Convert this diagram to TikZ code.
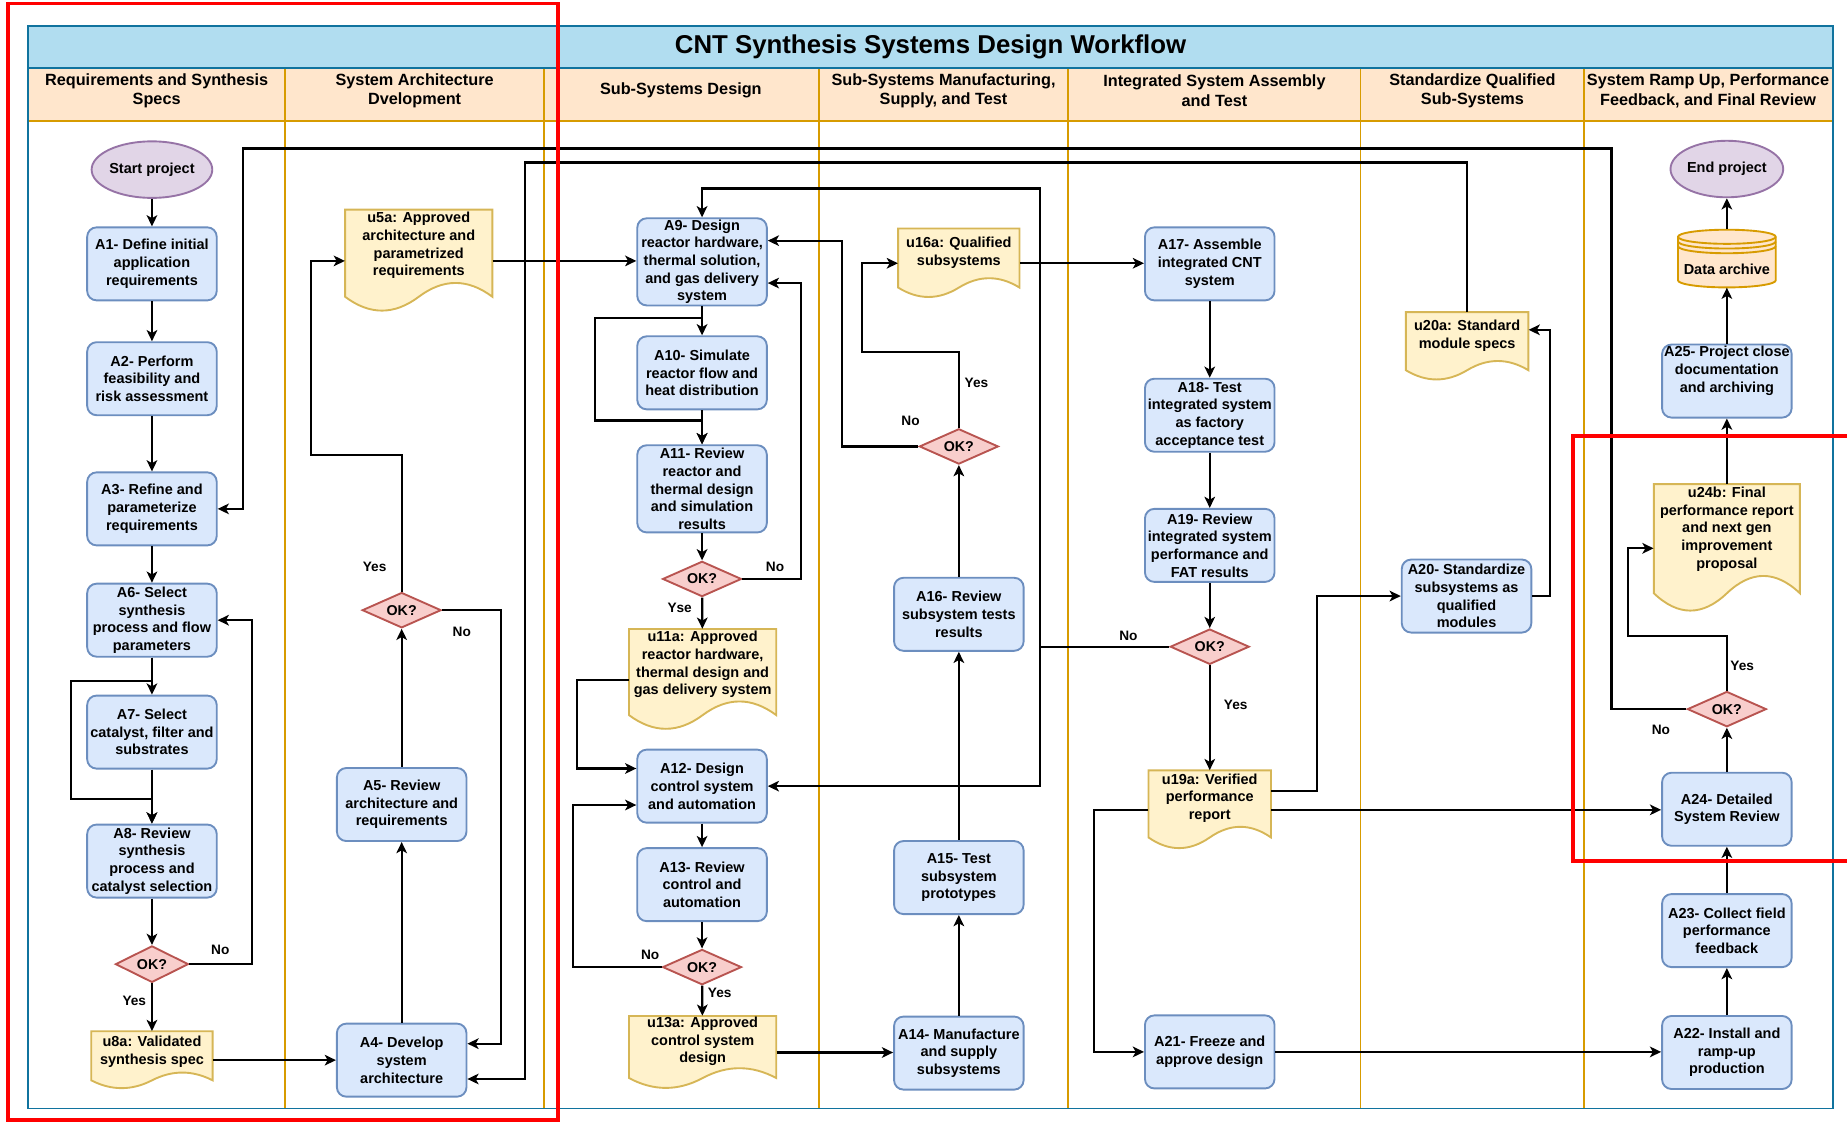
\documentclass[tikz,border=0pt]{standalone}
\usepackage{fontspec}
\setmainfont{Liberation Sans}
\usetikzlibrary{arrows.meta, shapes.geometric}

\definecolor{procfill}{HTML}{DAE8FC}
\definecolor{procline}{HTML}{6C8EBF}
\definecolor{docfill}{HTML}{FFF2CC}
\definecolor{docline}{HTML}{D6B656}
\definecolor{decfill}{HTML}{F8CECC}
\definecolor{decline}{HTML}{B85450}
\definecolor{termfill}{HTML}{E1D5E7}
\definecolor{termline}{HTML}{9673A6}
\definecolor{headfill}{HTML}{FFE6CC}
\definecolor{headline}{HTML}{D79B00}
\definecolor{titlefill}{HTML}{B1DDF0}
\definecolor{titleline}{HTML}{10739E}

% document shape: name, left, top, width, height, text
\newcommand{\docnode}[6]{%
  \pgfmathsetmacro{\dcr}{#3+0.85*#5}%
  \pgfmathsetmacro{\dup}{#3+0.67*#5}%
  \pgfmathsetmacro{\ddn}{#3+1.03*#5}%
  \draw[docpath] (#2,#3) -- (#2+#4,#3) -- (#2+#4,\dcr)
    .. controls (#2+0.8333*#4,\dup) and (#2+0.6667*#4,\dup) .. (#2+0.5*#4,\dcr)
    .. controls (#2+0.3333*#4,\ddn) and (#2+0.1667*#4,\ddn) .. (#2,\dcr) -- cycle;
  \node[docbox, minimum width=#4pt, minimum height=#5pt] (#1) at (#2+0.5*#4,#3+0.5*#5) {};
  \node[doctext] (#1t) at (#2+0.5*#4,#3+0.35*#5) {#6};}

\begin{document}
\begin{tikzpicture}[x=1pt, y=-1pt,
  proc/.style={draw=procline, fill=procfill, line width=1.6pt, rounded corners=8pt, minimum width=110pt, minimum height=62pt, inner sep=0.5pt, align=center, font=\fontsize{12.3}{15}\selectfont\bfseries},
  dec/.style={diamond, draw=decline, fill=decfill, line width=1.6pt, minimum width=67pt, minimum height=30pt, inner sep=0pt, aspect=2.2, font=\fontsize{12.1}{14}\selectfont\bfseries},
  term/.style={ellipse, draw=termline, fill=termfill, line width=1.6pt, minimum width=88pt, minimum height=48pt, inner sep=0pt, font=\fontsize{12.3}{15}\selectfont\bfseries},
  store/.style={draw=headline, fill=headfill, line width=1.6pt},
  docpath/.style={draw=docline, fill=docfill, line width=1.6pt},
  docbox/.style={inner sep=0pt},
  doctext/.style={align=center, inner sep=0pt, font=\fontsize{12.3}{15}\selectfont\bfseries},
  hd/.style={align=center, inner sep=0pt, font=\fontsize{13.8}{16.7}\selectfont\bfseries},
  lbl/.style={inner sep=0pt, font=\fontsize{11.6}{14}\selectfont\bfseries},
  flow/.style={line width=1.9pt, -{Stealth[length=9.5pt, width=9pt, inset=2.5pt]}},
  lane/.style={draw=headline, line width=1.6pt},
  redbox/.style={draw=red, line width=3.3pt}]

\useasboundingbox (0,0) rectangle (1568,953);

\fill[headfill] (24,58) rectangle (1556,103);
\draw[lane] (24,103) -- (1556,103);
\foreach \x in {242,462,695,907,1155,1345}
  \draw[lane] (\x,58) -- (\x,941);
\filldraw[fill=titlefill, draw=titleline, line width=1.6pt] (24,22) rectangle (1556,58);
\draw[draw=titleline, line width=1.6pt] (24,22) rectangle (1556,941);

\node[inner sep=0pt, font=\fontsize{21.9}{26}\selectfont\bfseries] (ttl) at (790,40) {CNT Synthesis Systems Design Workflow};
\node[hd] (h1) at (133,77) {Requirements and Synthesis\\Specs};
\node[hd] (h2) at (352,77) {System Architecture\\Dvelopment};
\node[hd] (h3) at (578,77) {Sub-Systems Design};
\node[hd] (h4) at (801,77) {Sub-Systems Manufacturing,\\Supply, and Test};
\node[hd] (h5) at (1031,77) {Integrated System Assembly\\and Test};
\node[hd] (h6) at (1250,77) {Standardize Qualified\\Sub-Systems};
\node[hd] (h7) at (1450,77) {System Ramp Up, Performance\\Feedback, and Final Review};

\node[term] (start) at (129,144) {Start project};
\node[proc] (a1) at (129,224) {A1- Define initial\\application\\requirements};
\node[proc] (a2) at (129,321.5) {A2- Perform\\feasibility and\\risk assessment};
\node[proc] (a3) at (129,432) {A3- Refine and\\parameterize\\requirements};
\node[proc] (a6) at (129,526.5) {A6- Select\\synthesis\\process and flow\\parameters};
\node[proc] (a7) at (129,621.5) {A7- Select\\catalyst, filter and\\substrates};
\node[proc] (a8) at (129,731) {A8- Review\\synthesis\\process and\\catalyst selection};
\node[dec, minimum width=62pt, minimum height=31pt] (ok1) at (129,818.5) {OK?};
\docnode{u8a}{77.5}{875.5}{103}{49}{u8a: Validated\\synthesis spec}

\docnode{u5a}{293}{178}{125}{87}{u5a: Approved\\architecture and\\parametrized\\requirements}
\node[dec] (ok2) at (341,518) {OK?};
\node[proc] (a5) at (341,683) {A5- Review\\architecture and\\requirements};
\node[proc] (a4) at (341,900) {A4- Develop\\system\\architecture};

\node[proc, minimum height=74pt] (a9) at (596,222.3) {A9- Design\\reactor hardware,\\thermal solution,\\and gas delivery\\system};
\node[proc] (a10) at (596,316.5) {A10- Simulate\\reactor flow and\\heat distribution};
\node[proc, minimum height=74pt] (a11) at (596,415) {A11- Review\\reactor and\\thermal design\\and simulation\\results};
\node[dec] (ok3) at (596,491.5) {OK?};
\docnode{u11a}{534}{534}{125}{86}{u11a: Approved\\reactor hardware,\\thermal design and\\gas delivery system}
\node[proc] (a12) at (596,667.4) {A12- Design\\control system\\and automation};
\node[proc] (a13) at (596,751) {A13- Review\\control and\\automation};
\node[dec] (ok6) at (596,821) {OK?};
\docnode{u13a}{534}{862.5}{125}{62}{u13a: Approved\\control system\\design}

\docnode{u16a}{762.5}{194}{103}{59}{u16a: Qualified\\subsystems}
\node[dec] (ok4) at (814,379) {OK?};
\node[proc] (a16) at (814,521.5) {A16- Review\\subsystem tests\\results};
\node[proc] (a15) at (814,745) {A15- Test\\subsystem\\prototypes};
\node[proc] (a14) at (814,894) {A14- Manufacture\\and supply\\subsystems};

\node[proc] (a17) at (1027,224) {A17- Assemble\\integrated CNT\\system};
\node[proc] (a18) at (1027,352.5) {A18- Test\\integrated system\\as factory\\acceptance test};
\node[proc] (a19) at (1027,463) {A19- Review\\integrated system\\performance and\\FAT results};
\node[dec] (ok5) at (1027,549) {OK?};
\docnode{u19a}{975}{654}{104}{67}{u19a: Verified\\performance\\report}
\node[proc] (a21) at (1027,893) {A21- Freeze and\\approve design};

\docnode{u20a}{1193.5}{265}{104}{58}{u20a: Standard\\module specs}
\node[proc] (a20) at (1245,506) {A20- Standardize\\subsystems as\\qualified\\modules};

\node[term] (end) at (1466,143.5) {End project};
\draw[store] (1424.5,201) -- (1424.5,238) arc[start angle=180, end angle=360, x radius=41.5pt, y radius=6pt] -- (1507.5,201) arc[start angle=0, end angle=180, x radius=41.5pt, y radius=6pt] -- cycle;
\draw[store, fill=none] (1424.5,201) arc[start angle=180, end angle=360, x radius=41.5pt, y radius=6pt];
\draw[store, fill=none] (1424.5,205) arc[start angle=180, end angle=360, x radius=41.5pt, y radius=6pt];
\draw[store, fill=none] (1424.5,209) arc[start angle=180, end angle=360, x radius=41.5pt, y radius=6pt];
\node[docbox, minimum width=83pt, minimum height=49pt] (arch) at (1466,219.5) {};
\node[doctext] (archt) at (1466,229) {Data archive};
\node[proc] (a25) at (1466,323.5) {A25- Project close\\documentation\\and archiving\\[5pt]};
\docnode{u24b}{1404}{411}{124}{109}{u24b: Final\\performance report\\and next gen\\improvement\\proposal}
\node[dec] (ok7) at (1466,602) {OK?};
\node[proc] (a24) at (1466,687) {A24- Detailed\\System Review};
\node[proc] (a23) at (1466,790) {A23- Collect field\\performance\\feedback};
\node[proc] (a22) at (1466,893.5) {A22- Install and\\ramp-up\\production};

\draw[flow] (start) -- (a1);
\draw[flow] (a1) -- (a2);
\draw[flow] (a2) -- (a3);
\draw[flow] (a3) -- (a6);
\draw[flow] (a6) -- (a7);
\draw[flow] (a7) -- (a8);
\draw[flow] (a6.south) -- ++(0,20) -| (60,678) -| (a8.north);
\draw[flow] (a8) -- (ok1);
\draw[flow] (ok1) -- (u8a);
\draw[flow] (ok1.east) -- ++(53,0) |- (a6.east);
\draw[flow] (u8a.east) -- (u8a.east -| a4.west);

\draw[flow] (a4) -- (a5);
\draw[flow] (a5) -- (ok2);
\draw[flow] (ok2.north) |- (264,386) |- (u5a.west);
\draw[flow] (ok2.east) -- ++(50,0) |- ([yshift=14pt]a4.east);
\draw[flow] (u5a.east) -- (u5a.east -| a9.west);

\draw[flow] (ok7.west) -| (1368,126) -| (206,432) -- (a3.east);
\draw[flow] (u20a.north) |- (446,138) |- ([yshift=-16pt]a4.east);

\draw[flow] (a9) -- (a10);
\draw[flow] (a10) -- (a11);
\draw[flow] (a9.south) -- ++(0,10) -| (505,357) -| (a11.north);
\draw[flow] (a11) -- (ok3);
\draw[flow] (ok3) -- (u11a);
\draw[flow] (ok3.east) -- ++(50,0) |- ([yshift=-18pt]a9.east);
\draw[flow] (u11a.west) -- ++(-44,0) |- ([yshift=15pt]a12.west);
\draw[flow] (ok6.west) -- ++(-75,0) |- ([yshift=-16pt]a12.west);
\draw[flow] (a12) -- (a13);
\draw[flow] (a13) -- (ok6);
\draw[flow] (ok6) -- (u13a);
\draw[flow] (u13a.east) -- (u13a.east -| a14.west);

\draw[flow] (a14) -- (a15);
\draw[flow] (a15) -- (a16);
\draw[flow] (a16) -- (ok4);
\draw[flow] (ok4.west) -- ++(-65,0) |- ([yshift=18pt]a9.east);
\draw[flow] (ok4.north) |- (732,299) |- (u16a.west);
\draw[flow] (u16a.east) -- (u16a.east -| a17.west);

\draw[flow] (a17) -- (a18);
\draw[flow] (a18) -- (a19);
\draw[flow] (a19) -- (ok5);
\draw[flow] (ok5.west) -- ++(-110,0) |- (596,160) -- (a9.north);
\draw[flow] (ok5.west) -- ++(-110,0) |- (a12.east);
\draw[flow] (ok5) -- (u19a);
\draw[flow] ([yshift=16pt]u19a.east) -- ++(39,0) |- (a20.west);
\draw[flow] (u19a.east) -- (u19a.east -| a24.west);
\draw[flow] (u19a.west) -- ++(-46,0) |- (a21.west);
\draw[flow] (a21) -- (a21 -| a22.west);
\draw[flow] (a20.east) -- ++(15,0) |- ([yshift=14pt]u20a.east);

\draw[flow] (a22) -- (a23);
\draw[flow] (a23) -- (a24);
\draw[flow] (a24) -- (ok7);
\draw[flow] (ok7.north) |- (1382,540) |- (u24b.west);
\draw[flow] (u24b) -- (a25);
\draw[flow] (a25) -- (arch);
\draw[flow] (arch) -- (end);

\node[lbl] (n1) at (187,806) {No};
\node[lbl] (y1) at (114,850) {Yes};
\node[lbl] (y2) at (318,481) {Yes};
\node[lbl] (n2) at (392,536) {No};
\node[lbl] (n3) at (658,481) {No};
\node[lbl] (y3) at (577,516) {Yse};
\node[lbl] (n4) at (773,357) {No};
\node[lbl] (y4) at (829,325) {Yes};
\node[lbl] (n5) at (958,540) {No};
\node[lbl] (y5) at (1049,598) {Yes};
\node[lbl] (n6) at (552,811) {No};
\node[lbl] (y6) at (611,843) {Yes};
\node[lbl] (y7) at (1479,565) {Yes};
\node[lbl] (n7) at (1410,620) {No};

\draw[redbox] (7,3) rectangle (474,951);
\draw[redbox] (1572,370) -- (1335,370) -- (1335,731) -- (1572,731);
\end{tikzpicture}
\end{document}
